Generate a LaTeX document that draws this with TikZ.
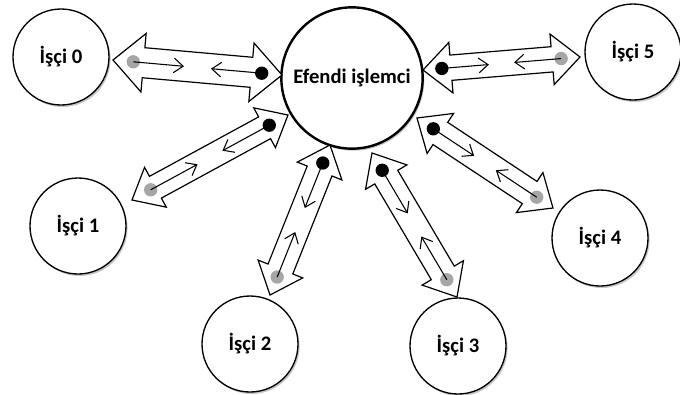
\documentclass[tikz,border=0pt]{standalone}
\usepackage{fontspec}
\setmainfont{Carlito}
\usetikzlibrary{calc,arrows.meta,shadows}
\tikzset{
  worker/.style={circle, draw, line width=1pt, fill=white, minimum size=72pt, inner sep=0pt,
    font=\bfseries\fontsize{15.5}{17}\selectfont,
    drop shadow={shadow xshift=1.2pt, shadow yshift=-1.5pt, opacity=0.22, fill=black}},
  master/.style={worker, line width=1.8pt, minimum size=106pt},
  barrow/.style={draw, line width=0.9pt, fill=white, line join=miter},
  small/.style={line width=0.8pt, -{Straight Barb[length=7pt,width=11pt,line width=0.8pt]}},
  gdot/.style={fill=black!35},
  bdot/.style={fill=black}
}
% #1 shaft half width, #2 head half width, #3 head length, #4 worker end, #5 master end
\newcommand\blockarrow[5]{%
  \path ($(#4)!#3!(#5)$) coordinate (ba1) ($(#5)!#3!(#4)$) coordinate (ba2);
  \draw[barrow] (#4) -- ($(ba1)!#2!90:(#5)$) -- ($(ba1)!#1!90:(#5)$)
    -- ($(ba2)!#1!-90:(#4)$) -- ($(ba2)!#2!-90:(#4)$) -- (#5)
    -- ($(ba2)!#2!90:(#4)$) -- ($(ba2)!#1!90:(#4)$)
    -- ($(ba1)!#1!-90:(#5)$) -- ($(ba1)!#2!-90:(#5)$) -- cycle;
  \fill[gdot] ($(#4)!0.12!(#5)$) circle (5pt);
  \fill[bdot] ($(#5)!0.12!(#4)$) circle (5pt);
  \draw[small] ($(#4)!0.12!(#5)$) -- ($(#4)!0.42!(#5)$);
  \draw[small] ($(#5)!0.12!(#4)$) -- ($(#5)!0.42!(#4)$);
}
\begin{document}
\begin{tikzpicture}[x=0.75pt,y=-0.75pt]
\useasboundingbox (0,0) rectangle (680,394);
\node[master] (m) at (352,78) {Efendi işlemci};
\node[worker] (w0) at (61,57) {İşçi 0};
\node[worker] (w1) at (78,226) {İşçi 1};
\node[worker] (w2) at (250,344) {İşçi 2};
\node[worker] (w3) at (458,346) {İşçi 3};
\node[worker] (w4) at (600,238) {İşçi 4};
\node[worker] (w5) at (633,52) {İşçi 5};
\coordinate (a0w) at (113,60);  \coordinate (a0m) at (282,75);
\coordinate (a1w) at (132,200); \coordinate (a1m) at (288,115);
\coordinate (a2w) at (270,295); \coordinate (a2m) at (330,145);
\coordinate (a3w) at (457,297); \coordinate (a3m) at (372,153);
\coordinate (a4w) at (553,208); \coordinate (a4m) at (417,118);
\coordinate (a5w) at (580,57);  \coordinate (a5m) at (423,70);
\blockarrow{11.3pt}{22pt}{23pt}{a0w}{a0m}
\blockarrow{9.3pt}{17pt}{20pt}{a1w}{a1m}
\blockarrow{10pt}{18pt}{21pt}{a2w}{a2m}
\blockarrow{10pt}{18pt}{21pt}{a3w}{a3m}
\blockarrow{10pt}{18pt}{21pt}{a4w}{a4m}
\blockarrow{9.5pt}{19pt}{21pt}{a5w}{a5m}
\end{tikzpicture}
\end{document}
